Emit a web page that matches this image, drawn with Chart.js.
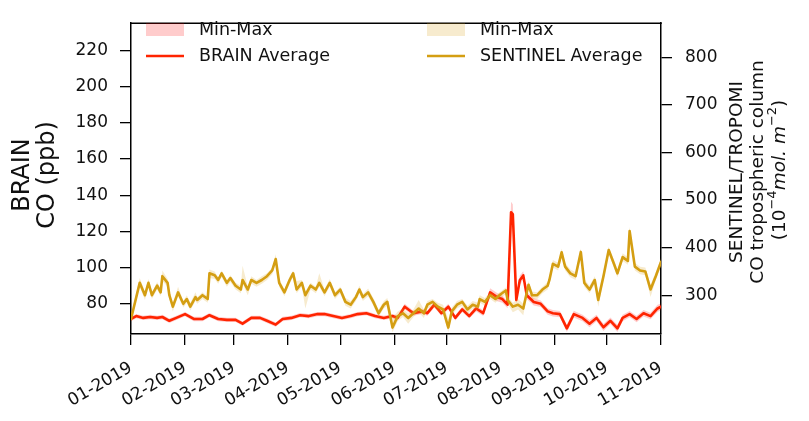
<!DOCTYPE html>
<html>
<head>
<meta charset="utf-8">
<script src="https://cdn.jsdelivr.net/npm/chart.js@4.4.0/dist/chart.umd.min.js"></script>
<style>
  html, body { margin: 0; padding: 0; background: #fff; }
</style>
</head>
<body>
<canvas id="chart" width="809" height="421"></canvas>
<script>
// --- Axes / ticks ---
const monthDays = [0, 31, 59, 90, 120, 151, 181, 212, 243, 273, 304];
const monthLabels = ['01-2019', '02-2019', '03-2019', '04-2019', '05-2019', '06-2019',
                     '07-2019', '08-2019', '09-2019', '10-2019', '11-2019'];
const brainTicks = [80, 100, 120, 140, 160, 180, 200, 220];
const sentinelTicks = [300, 400, 500, 600, 700, 800];

// --- BRAIN (ppb), jours depuis le 01-01-2019 ---
const brainDays = [0,3,7,11,15,18,22,26,31,36, 41,45,50,55,60,64,69,74,78,83,
  87,92,97,102,107,111,116,121,126,130, 135,140,145,150,153,157,162,167,170,174,
  178,182,186,190,194,198,202,206,210,213, 216,218,219,221,223,225,227,231,235,239,
  242,246,250,254,259,263,267,271,275,279, 282,286,290,294,298,302,304];
const brainAvg = [71.6,73.2,72.2,72.7,72.2,72.7,70.6,72.2,74.3,71.6,
  71.6,73.7,71.6,71.1,71.1,69.0,72.2,72.2,70.6,68.5,
  71.6,72.2,73.7,73.2,74.3,74.3,73.2,72.2,73.2,74.3,
  74.8,73.2,72.2,73.2,72.2,78.4,74.8,75.8,74.8,79.5,
  74.8,78.4,72.2,76.9,73.2,77.4,74.8,86.3,83.7,82.6,
  79.5,130.6,129.6,82.1,93.0,95.7,84.7,81.0,80.0,75.8,
  74.8,74.3,66.4,74.3,72.2,69.0,72.2,67.0,70.6,66.4,
  72.2,74.3,71.6,74.8,73.2,77.4,78.4];
const brainMax = [72.8,74.4,73.4,73.9,73.4,73.9,71.8,73.4,75.5,72.8,
  72.8,74.9,72.8,72.3,72.3,70.2,73.4,73.4,71.8,69.7,
  72.8,73.4,74.9,74.4,75.5,75.5,74.4,73.4,74.4,75.5,
  76.0,74.4,73.4,74.4,73.6,80.0,76.2,77.2,76.2,81.0,
  76.2,80.0,73.6,78.4,74.6,79.0,76.4,88.6,86.0,84.6,
  81.4,136.4,135.0,84.4,95.6,98.0,86.8,83.0,81.8,77.6,
  76.6,76.0,68.4,76.2,74.0,71.0,74.0,69.0,72.4,68.4,
  74.0,76.0,73.4,76.6,75.0,79.4,80.2];
const brainMin = [70.4,72.0,71.0,71.5,71.0,71.5,69.4,71.0,73.1,70.4,
  70.4,72.5,70.4,69.9,69.9,67.8,71.0,71.0,69.4,67.3,
  70.4,71.0,72.5,72.0,73.1,73.1,72.0,71.0,72.0,73.1,
  73.6,72.0,71.0,72.0,70.8,76.8,73.4,74.4,73.4,78.0,
  73.4,76.8,70.8,75.4,71.8,75.8,73.2,84.0,81.4,80.6,
  77.6,125.0,124.2,79.8,90.4,93.4,82.6,79.0,78.2,74.0,
  73.0,72.6,64.4,72.4,70.4,67.0,70.4,65.0,68.8,64.4,
  70.4,72.6,69.8,73.0,71.4,75.4,76.6];

// --- SENTINEL/TROPOMI (10^-4 mol.m^-2) ---
const sentinelDays = [0,5,8,10,12,15,17,18,21,22, 24,27,30,32,34,37,38,41,44,45,
  48,50,52,55,57,60,63,64,67,69, 72,75,78,81,83,85,88,91,93,95,
  98,100,103,106,108,111,114,117,120,123, 126,129,131,133,136,139,142,145,147,150,
  153,156,159,162,165,168,170,173,176,179, 182,184,187,190,193,196,199,200,203,206,
  209,212,215,216,219,222,225,228,230,233, 236,239,240,242,245,247,249,252,255,258,
  260,263,266,268,271,274,277,279,282,285, 286,289,292,295,298,301,304];
const sentinelAvg = [250,326,300,326,300,320,306,340,326,300,
  276,306,282,292,276,296,290,300,292,346,
  342,332,346,326,336,320,312,332,312,332,
  326,332,340,352,376,326,306,332,346,312,
  326,300,320,312,326,306,326,300,312,286,
  280,296,312,296,306,286,262,280,286,232,
  256,262,252,262,272,262,280,286,276,270,
  232,266,280,286,270,280,276,292,286,300,
  292,302,310,290,276,280,272,322,300,300,
  312,320,332,366,360,390,360,346,340,391,
  326,312,332,290,340,395,366,346,380,372,
  435,360,352,350,312,340,370];
const sentinelMax = [258,336,308,334,306,328,314,352,334,306,
  284,318,288,300,284,306,296,306,298,354,
  350,338,352,332,342,326,320,362,318,340,
  332,340,346,358,386,334,312,340,352,330,
  332,308,326,318,346,312,334,306,318,294,
  288,302,320,302,314,294,270,288,294,252,
  266,272,262,270,290,270,288,292,284,280,
  250,274,288,292,278,288,284,300,294,306,
  300,308,316,298,284,292,282,330,308,306,
  318,328,340,374,368,398,368,354,348,398,
  334,320,340,306,348,402,374,354,388,380,
  444,368,360,358,322,348,378];
const sentinelMin = [244,318,290,318,292,312,298,330,318,292,
  266,298,274,284,268,288,282,292,284,336,
  334,324,338,318,328,312,304,324,300,324,
  318,324,332,344,366,318,298,324,338,304,
  318,272,312,304,318,298,318,292,304,278,
  272,288,304,288,298,278,254,272,278,222,
  246,254,240,254,264,252,272,276,268,262,
  222,258,272,278,260,272,268,284,278,292,
  284,294,302,282,264,270,258,314,292,292,
  304,312,324,358,352,382,352,338,332,383,
  318,304,324,276,332,387,358,338,372,364,
  425,352,344,342,296,332,362];

// --- Couleurs ---
const COLORS = {
    brain: '#ff2400',
    brainBand: 'rgba(255, 0, 0, 0.2)',
    sentinel: '#d49e12',
    sentinelBand: 'rgba(218, 165, 32, 0.22)',
    text: '#111'
};
const FONT = 'DejaVu Sans';

const pts = (days, vals) => days.map((d, i) => ({ x: d, y: vals[i] }));

// Titres d'axes, légende et bord supérieur dessinés à la main
const decorPlugin = {
    id: 'decor',
    afterDraw(chart) {
        const ctx = chart.ctx;
        const area = chart.chartArea;
        ctx.save();

        // bord du haut
        ctx.strokeStyle = '#000';
        ctx.lineWidth = 1.5;
        ctx.beginPath();
        ctx.moveTo(area.left - 0.75, area.top);
        ctx.lineTo(area.right + 0.75, area.top);
        ctx.stroke();

        ctx.fillStyle = COLORS.text;
        ctx.textAlign = 'center';
        ctx.textBaseline = 'middle';

        // titre gauche
        const leftLines = ['BRAIN', 'CO (ppb)'];
        [23, 48].forEach((x, i) => {
            ctx.save();
            ctx.translate(x, 175);
            ctx.rotate(-Math.PI / 2);
            ctx.font = `24px "${FONT}"`;
            ctx.fillText(leftLines[i], 0, 0);
            ctx.restore();
        });

        // titre droit
        const rightLines = ['SENTINEL/TROPOMI', 'CO tropospheric column'];
        [737, 758].forEach((x, i) => {
            ctx.save();
            ctx.translate(x, 172);
            ctx.rotate(-Math.PI / 2);
            ctx.font = `18.5px "${FONT}"`;
            ctx.fillText(rightLines[i], 0, 0);
            ctx.restore();
        });
        const parts = [
            { t: '(10', f: `18.5px "${FONT}"`, dy: 0 },
            { t: '\u22124', f: `13px "${FONT}"`, dy: -7 },
            { t: 'mol. m', f: `italic 18.5px "${FONT}"`, dy: 0 },
            { t: '\u22122', f: `13px "${FONT}"`, dy: -7 },
            { t: ')', f: `18.5px "${FONT}"`, dy: 0 }
        ];
        ctx.save();
        ctx.translate(780, 170);
        ctx.rotate(-Math.PI / 2);
        ctx.textAlign = 'left';
        let total = 0;
        parts.forEach(p => { ctx.font = p.f; p.w = ctx.measureText(p.t).width; total += p.w; });
        let cx = -total / 2;
        parts.forEach(p => { ctx.font = p.f; ctx.fillText(p.t, cx, p.dy); cx += p.w; });
        ctx.restore();

        // légende
        ctx.font = `17.5px "${FONT}"`;
        ctx.textAlign = 'left';
        const cols = [
            { x: 146, band: COLORS.brainBand, line: COLORS.brain, label: 'BRAIN Average' },
            { x: 427, band: COLORS.sentinelBand, line: COLORS.sentinel, label: 'SENTINEL Average' }
        ];
        cols.forEach(c => {
            ctx.fillStyle = c.band;
            ctx.fillRect(c.x, 23, 38, 13);
            ctx.strokeStyle = c.line;
            ctx.lineWidth = 2.6;
            ctx.beginPath();
            ctx.moveTo(c.x, 56);
            ctx.lineTo(c.x + 38, 56);
            ctx.stroke();
            ctx.fillStyle = COLORS.text;
            ctx.fillText('Min-Max', c.x + 53, 30);
            ctx.fillText(c.label, c.x + 53, 56);
        });

        ctx.restore();
    }
};

const tickFont = { family: FONT, size: 17 };
const tickGrid = { drawOnChartArea: false, drawTicks: true, tickLength: 11, color: '#000', lineWidth: 1.3 };
const axisBorder = { color: '#000', width: 1.5 };

new Chart(document.getElementById('chart'), {
    type: 'line',
    data: {
        datasets: [
            { data: pts(sentinelDays, sentinelAvg), yAxisID: 'y2', borderColor: COLORS.sentinel,
              borderWidth: 2.6, fill: false },
            { data: pts(sentinelDays, sentinelMax), yAxisID: 'y2', borderWidth: 0,
              backgroundColor: COLORS.sentinelBand, fill: '+1' },
            { data: pts(sentinelDays, sentinelMin), yAxisID: 'y2', borderWidth: 0, fill: false },
            { data: pts(brainDays, brainAvg), yAxisID: 'y', borderColor: COLORS.brain,
              borderWidth: 2.6, fill: false },
            { data: pts(brainDays, brainMax), yAxisID: 'y', borderWidth: 0,
              backgroundColor: COLORS.brainBand, fill: '+1' },
            { data: pts(brainDays, brainMin), yAxisID: 'y', borderWidth: 0, fill: false }
        ]
    },
    options: {
        responsive: false,
        animation: false,
        layout: { padding: { top: 5, left: 0, right: 0, bottom: 0 } },
        elements: {
            point: { radius: 0 },
            line: { tension: 0, borderJoinStyle: 'round', borderCapStyle: 'round' }
        },
        plugins: { legend: { display: false }, tooltip: { enabled: false } },
        scales: {
            x: {
                type: 'linear',
                min: 0,
                max: 304,
                afterBuildTicks: s => { s.ticks = monthDays.map(v => ({ value: v })); },
                afterFit: s => { s.height = 87; },
                ticks: {
                    autoSkip: false,
                    minRotation: 30,
                    maxRotation: 30,
                    padding: 13,
                    color: COLORS.text,
                    font: tickFont,
                    callback: v => monthLabels[monthDays.indexOf(v)]
                },
                grid: tickGrid,
                border: axisBorder
            },
            y: {
                type: 'linear',
                position: 'left',
                min: 63.3,
                max: 235.1,
                afterBuildTicks: s => { s.ticks = brainTicks.map(v => ({ value: v })); },
                afterFit: s => { s.width = 131; },
                ticks: { padding: 12, color: COLORS.text, font: tickFont },
                grid: tickGrid,
                border: axisBorder
            },
            y2: {
                type: 'linear',
                position: 'right',
                min: 218.5,
                max: 871.6,
                afterBuildTicks: s => { s.ticks = sentinelTicks.map(v => ({ value: v })); },
                afterFit: s => { s.width = 148; },
                ticks: { padding: 13, color: COLORS.text, font: tickFont },
                grid: tickGrid,
                border: axisBorder
            }
        }
    },
    plugins: [decorPlugin]
});
</script>
</body>
</html>
